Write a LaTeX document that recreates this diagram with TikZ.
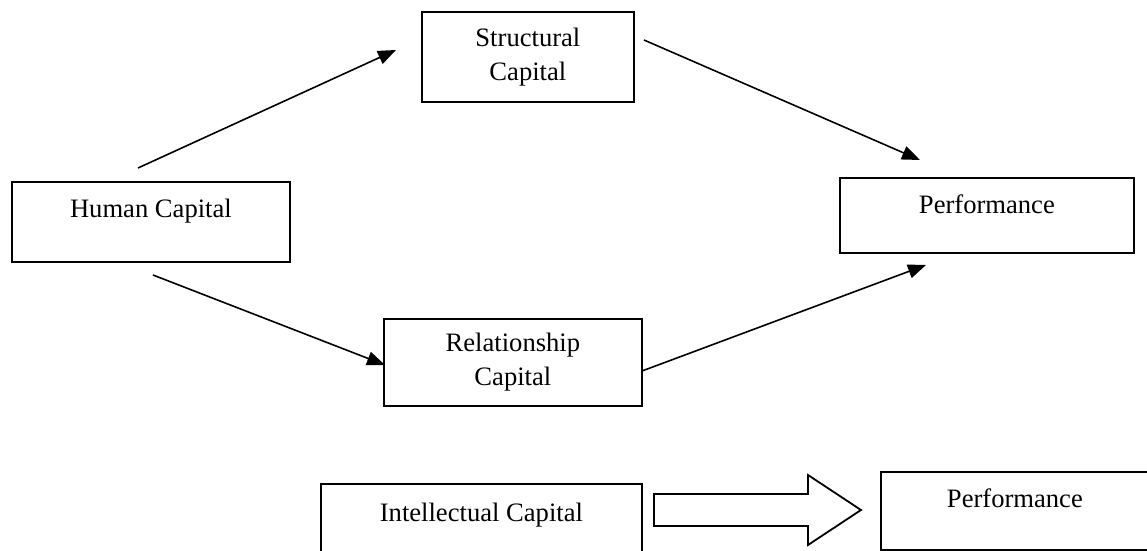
\documentclass[tikz,border=0pt]{standalone}
\usepackage{fontspec}
\setmainfont{Liberation Serif}
\usetikzlibrary{arrows.meta}
\begin{document}
\begin{tikzpicture}[x=0.5pt,y=-0.5pt,
  box/.style={draw, line width=0.9pt, inner sep=0pt, anchor=north west,
    font=\fontsize{13.3}{17}\selectfont},
  link/.style={line width=0.8pt, -{Triangle[length=9pt,width=7pt]}},
  bigarrow/.style={draw, line width=0.9pt, fill=white}]
\clip (0,0) rectangle (1147,551);
% boxes
\node[box, minimum width=139pt, text height=18pt, text depth=22pt] (hc) at (11,181) {Human Capital};
\node[box, minimum width=106pt, minimum height=45pt, align=center] (sc) at (421,11) {Structural\\Capital};
\node[box, minimum width=147pt, text height=18pt, text depth=19.5pt] (pt) at (839,177) {Performance};
\node[box, minimum width=129pt, minimum height=43.5pt, align=center] (rc) at (383,318) {Relationship\\Capital};
\node[box, minimum width=160.5pt, text height=19pt, text depth=30pt] (ic) at (320,483) {Intellectual Capital};
\node[box, minimum width=134pt, text height=18pt, text depth=21pt] (pb) at (880,471) {Performance};
% connector end points
\coordinate (a1s) at (138,168); \coordinate (a1e) at (396,50);
\coordinate (a2s) at (644,40);  \coordinate (a2e) at (920,160);
\coordinate (a3s) at (153,275); \coordinate (a3e) at (385,365);
\coordinate (a4s) at (642,371); \coordinate (a4e) at (926,265);
\draw[link] (a1s) -- (a1e);
\draw[link] (a2s) -- (a2e);
\draw[link] (a3s) -- (a3e);
\draw[link] (a4s) -- (a4e);
% block arrow
\coordinate (ba) at (654,510);
\draw[bigarrow] (654,494) -- (808,494) -- (808,475) -- (861,510) -- (808,545) -- (808,526) -- (654,526) -- cycle;
\end{tikzpicture}
\end{document}
